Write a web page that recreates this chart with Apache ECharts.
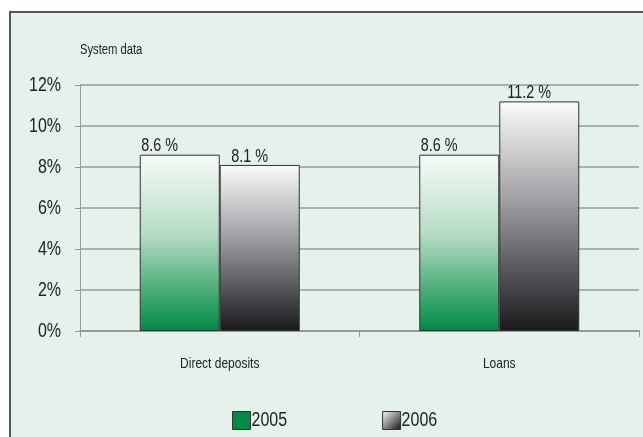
<!DOCTYPE html>
<html>
<head>
<meta charset="utf-8">
<script src="https://cdn.jsdelivr.net/npm/echarts@6/dist/echarts.min.js"></script>
<style>
html,body{margin:0;padding:0;background:#fff;}
#frame{position:absolute;left:9px;top:11px;width:660px;height:460px;background:#e5f1eb;border-top:2px solid #555;border-left:2px solid #555;}
#chart{position:absolute;left:0;top:0;width:643px;height:437px;}
</style>
</head>
<body>
<div id="frame"></div>
<div id="chart"></div>
<script>
const categories = ['Direct deposits', 'Loans'];
const series2005 = [8.6, 8.6];
const series2006 = [8.1, 11.2];
const seriesNames = ['2005', '2006'];
const yTicks = [0, 2, 4, 6, 8, 10, 12];

// Emulate a condensed typeface (none installed) by narrowing glyphs horizontally.
(function () {
  const SX = 0.8;
  const proto = CanvasRenderingContext2D.prototype;
  const origFill = proto.fillText, origStroke = proto.strokeText, origMeasure = proto.measureText;
  proto.fillText = function (t, x, y) {
    this.save(); this.translate(x, y); this.scale(SX, 1); origFill.call(this, t, 0, 0); this.restore();
  };
  proto.strokeText = function (t, x, y) {
    this.save(); this.translate(x, y); this.scale(SX, 1); origStroke.call(this, t, 0, 0); this.restore();
  };
  proto.measureText = function (t) {
    const m = origMeasure.call(this, t);
    return {
      width: m.width * SX,
      actualBoundingBoxAscent: m.actualBoundingBoxAscent,
      actualBoundingBoxDescent: m.actualBoundingBoxDescent,
      actualBoundingBoxLeft: m.actualBoundingBoxLeft * SX,
      actualBoundingBoxRight: m.actualBoundingBoxRight * SX,
      fontBoundingBoxAscent: m.fontBoundingBoxAscent,
      fontBoundingBoxDescent: m.fontBoundingBoxDescent
    };
  };
})();

const FONT = '"Liberation Sans", Arial, sans-serif';

const chart = echarts.init(document.getElementById('chart'));
const green = new echarts.graphic.LinearGradient(0, 0, 0, 1, [
  {offset: 0, color: '#f7fbf8'},
  {offset: 0.45, color: '#b5dcc4'},
  {offset: 1, color: '#008a43'}
]);
const grey = new echarts.graphic.LinearGradient(0, 0, 0, 1, [
  {offset: 0, color: '#fbfbfb'},
  {offset: 0.45, color: '#9c9ba0'},
  {offset: 1, color: '#19181b'}
]);
const greyIcon = new echarts.graphic.LinearGradient(0, 0, 1, 1, [
  {offset: 0, color: '#ffffff'},
  {offset: 0.5, color: '#888888'},
  {offset: 1, color: '#111111'}
]);

chart.setOption({
  animation: false,
  backgroundColor: 'transparent',
  textStyle: {fontFamily: FONT},
  graphic: [{
    type: 'text', left: 80, top: 45,
    style: {text: 'System data', fontSize: 14, fontFamily: FONT, fill: '#222'}
  }],
  grid: {left: 80, right: 4, top: 85, bottom: 106, containLabel: false},
  legend: {
    left: 227, top: 406, icon: 'rect',
    itemWidth: 18, itemHeight: 18, itemGap: 95,
    textStyle: {fontSize: 20, color: '#222', fontFamily: FONT, padding: [0, 0, 0, -4]},
    data: [
      {name: seriesNames[0], itemStyle: {color: '#008a43', borderColor: '#333', borderWidth: 1}},
      {name: seriesNames[1], itemStyle: {color: greyIcon, borderColor: '#333', borderWidth: 1}}
    ]
  },
  xAxis: {
    type: 'category',
    data: categories,
    axisLine: {lineStyle: {color: '#999', width: 2}},
    axisTick: {show: true, length: 6, lineStyle: {color: '#999'}},
    axisLabel: {margin: 27, fontSize: 15, color: '#222', fontFamily: FONT}
  },
  yAxis: {
    type: 'value',
    min: yTicks[0], max: yTicks[yTicks.length - 1], interval: 2,
    axisLine: {show: true, lineStyle: {color: '#999'}},
    axisTick: {show: true, length: 5, lineStyle: {color: '#999'}},
    axisLabel: {formatter: '{value}%', margin: 19, fontSize: 20, color: '#222', fontFamily: FONT},
    splitLine: {lineStyle: {color: '#999', width: 1.5}}
  },
  series: [
    {
      name: seriesNames[0], type: 'bar', data: series2005,
      barWidth: 80, barGap: '0%',
      itemStyle: {color: green, borderColor: '#333', borderWidth: 1},
      label: {show: true, position: 'top', distance: 1, offset: [-20, 0],
        formatter: p => p.value.toFixed(1) + ' %', fontSize: 18, color: '#222', fontFamily: FONT}
    },
    {
      name: seriesNames[1], type: 'bar', data: series2006,
      barWidth: 80, barGap: '0%',
      itemStyle: {color: grey, borderColor: '#333', borderWidth: 1},
      label: {show: true, position: 'top', distance: 1, offset: [-10, 0],
        formatter: p => p.value.toFixed(1) + ' %', fontSize: 18, color: '#222', fontFamily: FONT}
    }
  ]
});
</script>
</body>
</html>
